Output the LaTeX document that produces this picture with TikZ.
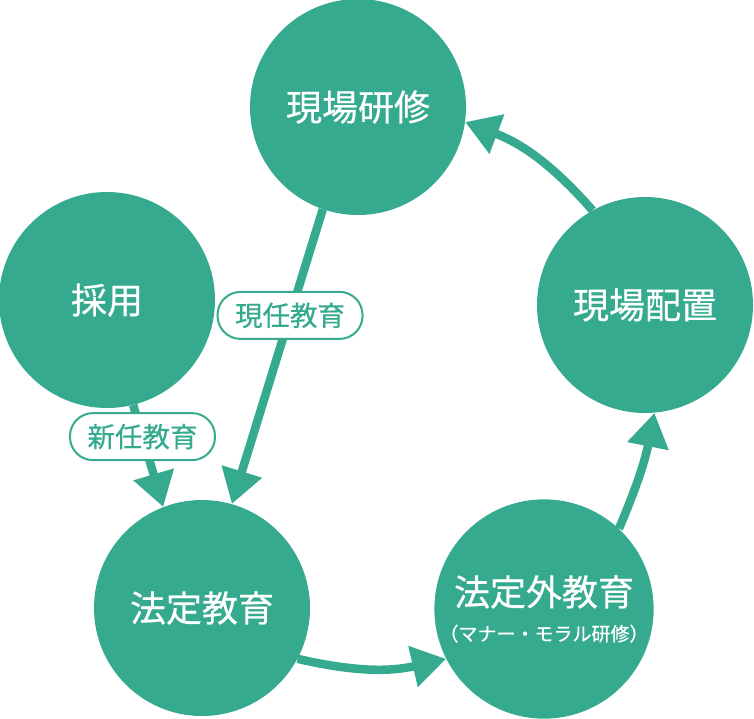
\documentclass[tikz,border=0pt]{standalone}
\usepackage{fontspec}
\setmainfont{Noto Sans CJK JP}[UprightFeatures={FakeBold=0.5}]
\usetikzlibrary{arrows.meta}
\definecolor{cyclegreen}{HTML}{36AA8E}
\begin{document}
\begin{tikzpicture}[x=1pt, y=1pt,
  stage/.style={circle, fill=cyclegreen, minimum size=216pt, inner sep=0pt, text=white, align=center, font=\fontsize{36}{40}\selectfont},
  tag/.style={draw=cyclegreen, line width=2pt, fill=white, rounded corners=23pt, minimum width=145pt, minimum height=47pt, inner sep=0pt, text=cyclegreen, font=\fontsize{27.5}{30}\selectfont},
  flow/.style={cyclegreen, line width=8.5pt, -{Triangle[length=34pt, width=40pt]}}]
\useasboundingbox (0,0) rectangle (754,-718);
\node[stage] (kenshu) at (358,-107) {現場研修};
\node[stage] (saiyo) at (107,-300) {採用};
\node[stage] (haichi) at (645,-305) {現場配置};
\node[stage] (hotei) at (202,-608) {法定教育};
\node[stage] (hoteigai) at (544,-609) {\raisebox{-11pt}{\shortstack{法定外教育\\[13pt]{\fontsize{19}{22}\selectfont （マナー・モラル研修）}}}};
\draw[flow] (saiyo.-76) -- node[tag, pos=.31] {新任教育} (hotei.111);
\draw[flow] (kenshu.-109) -- node[tag, pos=.36] {現任教育} (hotei.74);
\draw[flow] (hotei.-28) to[bend right=13] (hoteigai.-153);
\draw[flow] (hoteigai.47) to[bend right=6] (haichi.-85);
\draw[flow] (haichi.119) to[bend right=14] (kenshu.-8);
\end{tikzpicture}
\end{document}
